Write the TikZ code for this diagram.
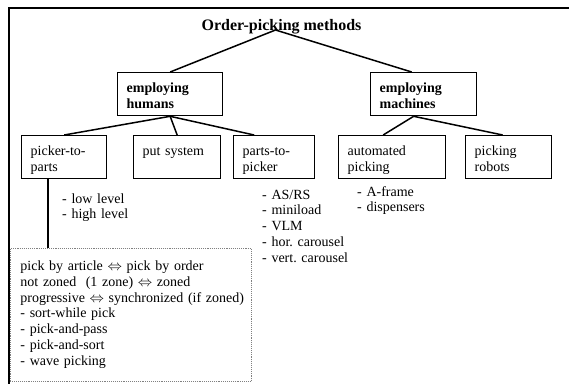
\documentclass[tikz,border=0pt]{standalone}
\usepackage{fontspec}
\setmainfont{Liberation Serif}
\usepackage{tikz}
\usetikzlibrary{positioning}
\frenchspacing

\tikzset{
	catbox/.style={draw, line width=1.3pt, anchor=north west, align=left, inner xsep=9pt, inner ysep=0pt, text height=20pt, text depth=23pt},
	branch/.style={line width=1.5pt},
	itemlist/.style={anchor=base west, align=left, inner sep=0pt, text width=130pt},
}

\begin{document}
\begin{tikzpicture}[x=1pt, y=-1pt, font=\fontsize{14}{15.8}\selectfont]
	\useasboundingbox (0,0) rectangle (569,383);
	\draw[line width=2.5pt] (9,400) -- (9,8) -- (590,8);
	
	\node[anchor=base, font=\fontsize{16}{18}\selectfont\bfseries] (opm) at (281.5,30) {Order-picking methods};
	
	% second level
	\node[catbox, text width=87pt, font=\fontsize{14}{15.8}\selectfont\bfseries] (humans) at (117,72) {employing\\humans};
	\node[catbox, text width=88pt, font=\fontsize{14}{15.8}\selectfont\bfseries] (machines) at (370,72) {employing\\machines};
	
	% third level
	\node[catbox, text width=67pt] (p2p) at (21,135) {picker-to-\\parts};
	\node[catbox, text width=69pt] (put) at (133,135) {put system};
	\node[catbox, text width=63pt] (parts) at (233,135) {parts-to-\\picker};
	\node[catbox, text width=89pt] (auto) at (338,135) {automated\\picking};
	\node[catbox, text width=68pt] (robots) at (465,135) {picking\\robots};
	
	\draw[branch] ([xshift=-6pt]opm.base) -- (humans.north);
	\draw[branch] ([xshift=-6pt]opm.base) -- ([xshift=-12pt]machines.north);
	
	\draw[branch] (humans.south) -- (p2p.north);
	\draw[branch] (humans.south) -- (put.north);
	\draw[branch] (humans.south) -- ([xshift=-20pt]parts.north);
	\draw[branch] ([xshift=-10pt]machines.south) -- ([xshift=-9pt]auto.north);
	\draw[branch] ([xshift=-10pt]machines.south) -- ([xshift=-6pt]robots.north);
	
	% variants below the boxes
	\node[itemlist] (levels) at (62,203) {- low level\\- high level};
	\node[itemlist] (systems) at (262,199) {- AS/RS\\- miniload\\- VLM\\- hor. carousel\\- vert. carousel};
	\node[itemlist] (machinery) at (357,196) {- A-frame\\- dispensers};
	
	\node[draw=gray, densely dotted, line width=0.9pt, anchor=north west, align=left, inner xsep=10pt, inner ysep=0pt, text width=221pt, text height=22pt, text depth=111pt] (choices) at (10,248)
		{pick by article $\Leftrightarrow$ pick by order\\
		not zoned\ \ (1 zone) $\Leftrightarrow$ zoned\\
		\mbox{progressive $\Leftrightarrow$ synchronized (if zoned)}\\
		- sort-while pick\\
		- pick-and-pass\\
		- pick-and-sort\\
		- wave picking};
	\draw[branch] ([xshift=-16pt]p2p.south) -- ([xshift=-16pt]p2p.south |- choices.north);
\end{tikzpicture}
\end{document}
